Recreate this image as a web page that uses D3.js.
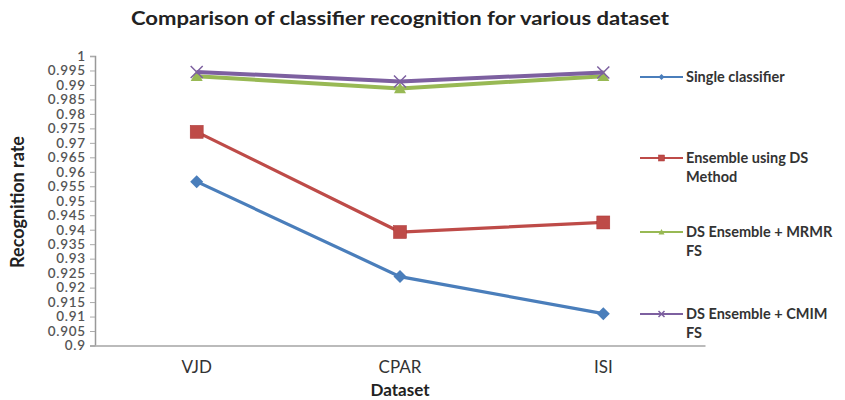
<!DOCTYPE html>
<html><head><meta charset="utf-8">
<script src="https://cdn.jsdelivr.net/npm/d3@7"></script>
<style>body{margin:0;background:#fff}svg{display:block}text{font-family:Lato,"Open Sans",sans-serif}</style>
</head><body>
<svg id="c" width="845" height="400"></svg>
<script>
const categories = ["VJD", "CPAR", "ISI"];
const seriesNames = ["Single classifier", "Ensemble using DS Method", "DS Ensemble + MRMR FS", "DS Ensemble + CMIM FS"];
const singleClassifier = [0.9566, 0.9238, 0.9110];
const ensembleDS = [0.9738, 0.9392, 0.9425];
const dsMRMR = [0.9930, 0.9888, 0.9930];
const dsCMIM = [0.9945, 0.9912, 0.9943];
const yTicks = [0.9,0.905,0.91,0.915,0.92,0.925,0.93,0.935,0.94,0.945,0.95,0.955,0.96,0.965,0.97,0.975,0.98,0.985,0.99,0.995,1];
const legendLines = [["Single classifier"], ["Ensemble using DS", "Method"], ["DS Ensemble + MRMR", "FS"], ["DS Ensemble + CMIM", "FS"]];

const svg = d3.select("#c");
const colors = ["#4A7EBB", "#BE4B48", "#98B954", "#7D60A0"];
const x = d3.scalePoint().domain(categories).range([196.7, 603.3]);
const y = d3.scaleLinear().domain([0.9, 1]).range([345.5, 56]);

// title
svg.append("text").attr("x", 400).attr("y", 25).attr("text-anchor", "middle")
  .attr("font-size", 19).attr("font-weight", "bold").attr("fill", "#222")
  .attr("textLength", 538).attr("lengthAdjust", "spacingAndGlyphs")
  .text("Comparison of classifier recognition for various dataset");

// y axis
const yAxis = d3.axisLeft(y).tickValues(yTicks).tickSize(5).tickPadding(5)
  .tickFormat(d => String(+d.toFixed(3)));
const gy = svg.append("g").attr("transform", "translate(95,0)").call(yAxis);
gy.select(".domain").attr("stroke", "#999").attr("stroke-width", 1.5);
gy.selectAll(".tick line").attr("stroke", "#aaa");
gy.selectAll("text").attr("font-size", 13.5).attr("font-weight", 600).attr("fill", "#555")
  .attr("font-family", "Lato, sans-serif").attr("textLength", function () { return this.getComputedTextLength() * 1.08; });

// x axis
const xb = d3.scaleBand().domain(categories).range([95, 705]);
const xAxis = d3.axisBottom(xb).tickSize(0).tickPadding(15);
const gx = svg.append("g").attr("transform", "translate(0,345.5)").call(xAxis);
gx.select(".domain").attr("stroke", "#bbb").attr("stroke-width", 2);
gx.selectAll("text").attr("font-size", 17).attr("fill", "#333").attr("font-family", "Lato, sans-serif");

// axis titles
svg.append("text").attr("x", 400).attr("y", 396).attr("text-anchor", "middle")
  .attr("font-size", 17).attr("font-weight", "bold").attr("fill", "#222").text("Dataset");
svg.append("text").attr("transform", "translate(24,202) rotate(-90)").attr("text-anchor", "middle")
  .attr("font-size", 18).attr("font-weight", "bold").attr("fill", "#222").text("Recognition rate");

const data = [singleClassifier, ensembleDS, dsMRMR, dsCMIM];
const line = d3.line().x((d, i) => x(categories[i])).y(d => y(d));

function marker(g, k, s) {
  const h = s / 2;
  if (k === 0) g.append("path").attr("d", `M0,${-h}L${h},0L0,${h}L${-h},0Z`).attr("fill", colors[0]);
  else if (k === 1) g.append("rect").attr("x", -h).attr("y", -h).attr("width", s).attr("height", s).attr("fill", colors[1]).attr("stroke", "#a33").attr("stroke-width", 0.5);
  else if (k === 2) g.append("path").attr("d", `M0,${-h}L${h},${h * 0.8}L${-h},${h * 0.8}Z`).attr("fill", colors[2]);
  else g.append("path").attr("d", `M${-h},${-h}L${h},${h}M${-h},${h}L${h},${-h}`).attr("stroke", colors[3]).attr("stroke-width", 1.5).attr("fill", "none");
}

const sizes = [13, 13, 12, 12];
[2, 3, 1, 0].forEach(k => {
  svg.append("path").datum(data[k]).attr("d", line).attr("fill", "none")
    .attr("stroke", colors[k]).attr("stroke-width", k >= 2 ? 4 : 3.2);
  data[k].forEach((v, i) => {
    const g = svg.append("g").attr("transform", `translate(${x(categories[i])},${y(v)})`);
    marker(g, k, sizes[k]);
  });
});

// legend
const legY = [77, 158, 232, 314];
legendLines.forEach((lines, k) => {
  const g = svg.append("g").attr("transform", `translate(640,${legY[k]})`);
  g.append("line").attr("x1", 0).attr("x2", 43).attr("stroke", colors[k]).attr("stroke-width", 2);
  const mg = g.append("g").attr("transform", "translate(21.5,0)");
  marker(mg, k, 6);
  lines.forEach((t, j) => {
    g.append("text").attr("x", 46).attr("y", j * 19 + 5).attr("font-size", 14.5)
      .attr("font-weight", "bold").attr("fill", "#333").text(t);
  });
});
</script>
</body></html>
